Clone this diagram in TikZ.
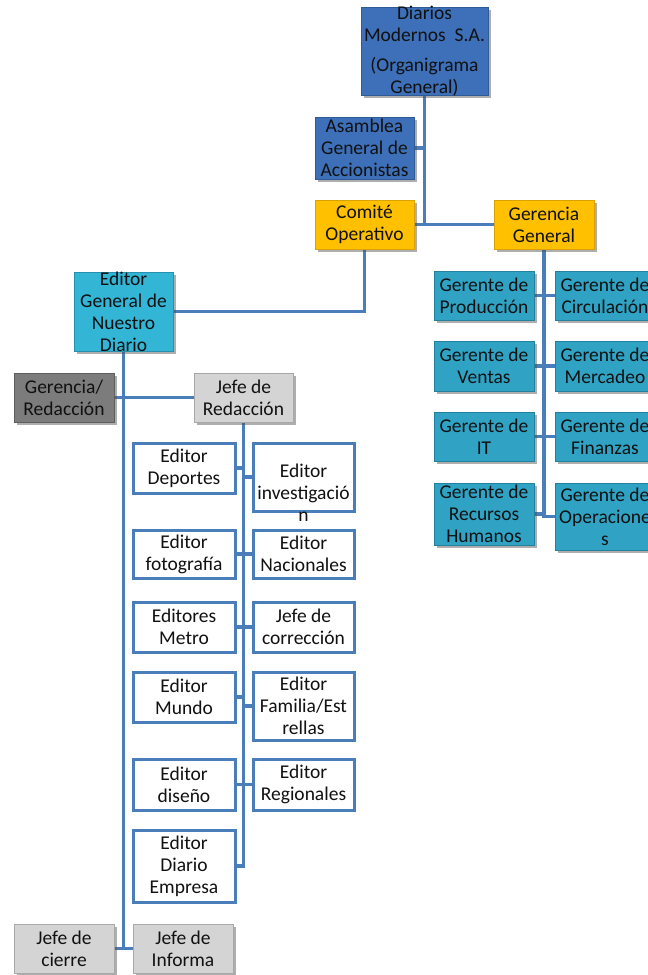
\documentclass[tikz,border=0pt]{standalone}
\usepackage{fontspec}
\setmainfont{Carlito}
\usetikzlibrary{shadows,backgrounds}
\definecolor{cLine}{HTML}{4A7EBB}
\definecolor{cBlue}{HTML}{3D70B8}
\definecolor{cBlueD}{HTML}{2F5A96}
\definecolor{cYel}{HTML}{FFC000}
\definecolor{cYelD}{HTML}{D9A200}
\definecolor{cCyan}{HTML}{33B5D6}
\definecolor{cCyanD}{HTML}{2690AE}
\definecolor{cTeal}{HTML}{30A3C4}
\definecolor{cTealD}{HTML}{23819E}
\definecolor{cDGray}{HTML}{7C7C7C}
\definecolor{cDGrayD}{HTML}{5E5E5E}
\definecolor{cLGray}{HTML}{D4D4D4}
\definecolor{cLGrayD}{HTML}{A8A8A8}
\definecolor{cText}{HTML}{111111}
\newcommand\obox[8]{%
  \node[#2, minimum width=#5pt, minimum height=#6pt] (#1) at (#3,#4) {};
  \node[txt, yshift=#8pt] (#1-t) at (#3,#4) {#7};}
\begin{document}
\begin{tikzpicture}[x=1pt,y=-1pt,
  box/.style={rectangle, inner sep=0pt, line width=0.8pt,
    drop shadow={shadow xshift=2.5pt, shadow yshift=-2.5pt, opacity=0.45, fill=black!70}},
  bluebox/.style={box, fill=cBlue, draw=cBlueD},
  yelbox/.style={box, fill=cYel, draw=cYelD},
  cyanbox/.style={box, fill=cCyan, draw=cCyanD},
  tealbox/.style={box, fill=cTeal, draw=cTealD},
  dgraybox/.style={box, fill=cDGray, draw=cDGrayD},
  lgraybox/.style={box, fill=cLGray, draw=cLGrayD},
  wbox/.style={rectangle, inner sep=0pt, fill=white, draw=cLine, line width=3pt},
  txt/.style={align=center, font=\fontsize{19.5}{22}\selectfont, text=cText, inner sep=0pt},
  link/.style={draw=cLine, line width=3.5pt}]
\useasboundingbox (0,0) rectangle (648,975);
\clip (0,0) rectangle (648,975);

\obox{dm}{bluebox}{424.5}{51}{127}{88}{Diarios\\Modernos~ S.A.\\[8pt](Organigrama\\General)}{0}
\obox{as}{bluebox}{364.5}{148}{99}{62}{Asamblea\\General de\\Accionistas}{0}
\obox{co}{yelbox}{364.5}{224.5}{99}{49}{Comité\\Operativo}{0}
\obox{gg}{yelbox}{544}{224.5}{100}{49}{Gerencia\\General}{0}
\obox{eg}{cyanbox}{123.5}{311.5}{99}{79}{Editor\\General de\\Nuestro\\Diario}{0}
\obox{gr}{dgraybox}{64}{397.5}{100}{49}{Gerencia/\\Redacción}{0}
\obox{jr}{lgraybox}{243.5}{397.5}{99}{49}{Jefe de\\Redacción}{0}

\obox{gp}{tealbox}{484}{295.5}{100}{49}{Gerente de\\Producción}{0}
\obox{gc}{tealbox}{605}{295.5}{100}{49}{Gerente de\\Circulación}{0}
\obox{gv}{tealbox}{484}{366}{100}{50}{Gerente de\\Ventas}{0}
\obox{gm}{tealbox}{605}{366}{100}{50}{Gerente de\\Mercadeo}{0}
\obox{gi}{tealbox}{484}{436.5}{100}{49}{Gerente de\\IT}{0}
\obox{gf}{tealbox}{605}{436.5}{100}{49}{Gerente de\\Finanzas}{0}
\obox{gh}{tealbox}{484}{514}{100}{62}{Gerente de\\Recursos\\Humanos}{0}
\obox{go}{tealbox}{605}{516.5}{100}{67}{Gerente de\\Operacione\\s}{0}

\obox{ed}{wbox}{184}{468}{102}{50}{Editor\\Deportes}{0}
\obox{ei}{wbox}{303.5}{477}{101}{68}{Editor\\investigació\\n}{-16}
\obox{ef}{wbox}{184}{554}{102}{48}{Editor\\fotografía}{0}
\obox{en}{wbox}{303.5}{554}{101}{48}{Editor\\Nacionales}{0}
\obox{em}{wbox}{184}{627}{102}{50}{Editores\\Metro}{0}
\obox{jc}{wbox}{303.5}{627}{101}{50}{Jefe de\\corrección}{0}
\obox{emu}{wbox}{184}{697}{102}{50}{Editor\\Mundo}{0}
\obox{efe}{wbox}{303.5}{706}{101}{68}{Editor\\Familia/Est\\rellas}{0}
\obox{edi}{wbox}{184}{784.5}{102}{51}{Editor\\diseño}{0}
\obox{er}{wbox}{303.5}{784.5}{101}{51}{Editor\\Regionales}{0}
\obox{ede}{wbox}{184}{866}{102}{72}{Editor\\Diario\\Empresa}{0}
\obox{jci}{lgraybox}{64}{948.5}{100}{49}{Jefe de\\cierre}{0}
\obox{jin}{lgraybox}{183}{948.5}{100}{49}{Jefe de\\Informa}{0}

\begin{scope}[on background layer]
\fill[white] (0,0) rectangle (648,975);
\draw[link] (dm.south) -- (dm.south |- co.east);
\draw[link] (as.east) -- (as.east -| dm.south);
\draw[link] (co.east) -- (gg.west);
\draw[link] (co.south) |- (eg.east);
\draw[link] (gg.south) |- (gh.east);
\draw[link] (gg.south) |- (go.west);
\draw[link] (gp.east) -- (gc.west);
\draw[link] (gv.east) -- (gm.west);
\draw[link] (gi.east) -- (gf.west);
\draw[link] (eg.south) |- (jci.east);
\draw[link] (jci.east) -- (jin.west);
\draw[link] (gr.east) -- (jr.west);
\draw[link] (jr.south) |- (ede.east);
\draw[link] (ed.east) -- (ed.east -| jr.south);
\draw[link] (ei.west) -- (ei.west -| jr.south);
\draw[link] (ef.east) -- (en.west);
\draw[link] (em.east) -- (jc.west);
\draw[link] (emu.east) -- (emu.east -| jr.south);
\draw[link] (efe.west) -- (efe.west -| jr.south);
\draw[link] (edi.east) -- (er.west);
\end{scope}
\end{tikzpicture}
\end{document}
